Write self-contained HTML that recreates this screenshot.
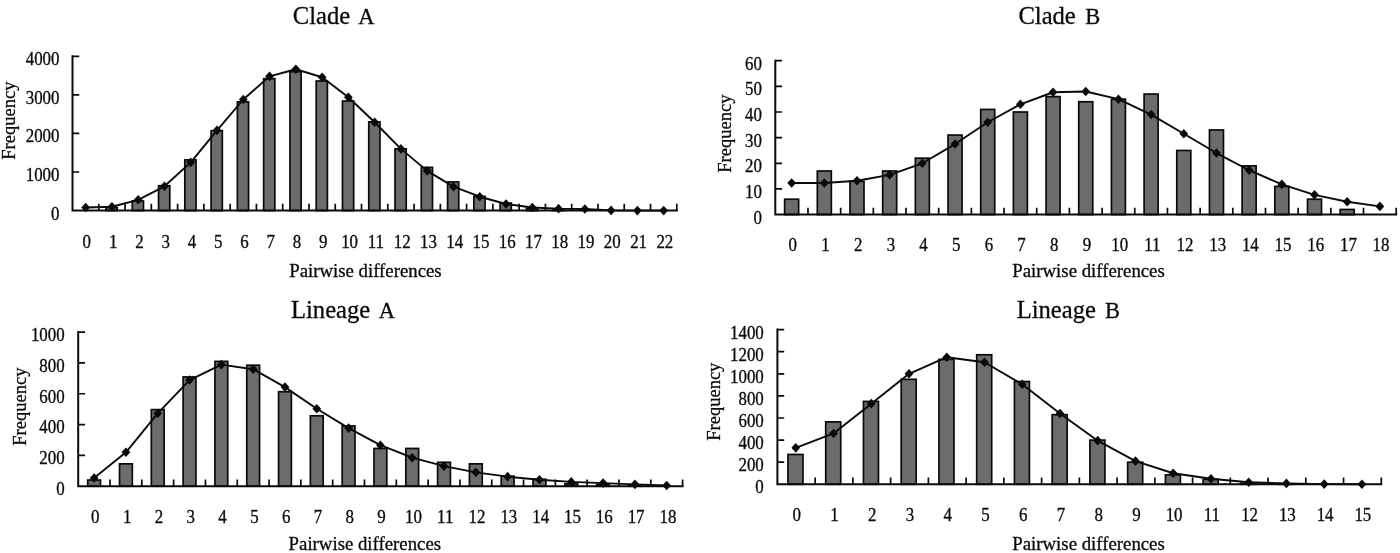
<!DOCTYPE html>
<html lang="en"><head><meta charset="utf-8"><title>Mismatch distributions</title>
<style>
html,body{margin:0;padding:0;background:#fff;}
body{width:1400px;height:553px;overflow:hidden;}
svg{display:block;}
svg text{font-family:"Liberation Serif", "Times New Roman", serif;fill:#0a0a0a;stroke:#0a0a0a;stroke-width:0.3px;}
</style></head>
<body>
<svg width="1400" height="553" viewBox="0 0 1400 553">
<rect width="1400" height="553" fill="#ffffff"/>
<g>
<rect x="106.01" y="207.51" width="11.2" height="3.09" fill="#6c6c6c" stroke="#0a0a0a" stroke-width="1.7"/>
<rect x="132.28" y="200.96" width="11.2" height="9.64" fill="#6c6c6c" stroke="#0a0a0a" stroke-width="1.7"/>
<rect x="158.56" y="185.72" width="11.2" height="24.88" fill="#6c6c6c" stroke="#0a0a0a" stroke-width="1.7"/>
<rect x="184.83" y="159.87" width="11.2" height="50.73" fill="#6c6c6c" stroke="#0a0a0a" stroke-width="1.7"/>
<rect x="211.11" y="130.75" width="11.2" height="79.85" fill="#6c6c6c" stroke="#0a0a0a" stroke-width="1.7"/>
<rect x="237.38" y="101.82" width="11.2" height="108.78" fill="#6c6c6c" stroke="#0a0a0a" stroke-width="1.7"/>
<rect x="263.65" y="78.67" width="11.2" height="131.93" fill="#6c6c6c" stroke="#0a0a0a" stroke-width="1.7"/>
<rect x="289.93" y="71.73" width="11.2" height="138.87" fill="#6c6c6c" stroke="#0a0a0a" stroke-width="1.7"/>
<rect x="316.2" y="80.99" width="11.2" height="129.61" fill="#6c6c6c" stroke="#0a0a0a" stroke-width="1.7"/>
<rect x="342.48" y="101.05" width="11.2" height="109.55" fill="#6c6c6c" stroke="#0a0a0a" stroke-width="1.7"/>
<rect x="368.75" y="121.88" width="11.2" height="88.72" fill="#6c6c6c" stroke="#0a0a0a" stroke-width="1.7"/>
<rect x="395.02" y="148.88" width="11.2" height="61.72" fill="#6c6c6c" stroke="#0a0a0a" stroke-width="1.7"/>
<rect x="421.3" y="167.4" width="11.2" height="43.2" fill="#6c6c6c" stroke="#0a0a0a" stroke-width="1.7"/>
<rect x="447.57" y="181.94" width="11.2" height="28.66" fill="#6c6c6c" stroke="#0a0a0a" stroke-width="1.7"/>
<rect x="473.85" y="196.33" width="11.2" height="14.27" fill="#6c6c6c" stroke="#0a0a0a" stroke-width="1.7"/>
<rect x="500.12" y="203.08" width="11.2" height="7.52" fill="#6c6c6c" stroke="#0a0a0a" stroke-width="1.7"/>
<rect x="526.39" y="208.29" width="11.2" height="2.31" fill="#6c6c6c" stroke="#0a0a0a" stroke-width="1.7"/>
<rect x="552.67" y="209.83" width="11.2" height="0.77" fill="#6c6c6c" stroke="#0a0a0a" stroke-width="1.7"/>
<path d="M72.5 55.3V211.6M72.5 210.6H677.8" fill="none" stroke="#0a0a0a" stroke-width="2.0"/>
<path d="M72.5 172.02h6.8M72.5 133.45h6.8M72.5 94.87h6.8M72.5 56.3h6.8M98.77 210.6v-6.8M125.05 210.6v-6.8M151.32 210.6v-6.8M177.6 210.6v-6.8M203.87 210.6v-6.8M230.14 210.6v-6.8M256.42 210.6v-6.8M282.69 210.6v-6.8M308.97 210.6v-6.8M335.24 210.6v-6.8M361.51 210.6v-6.8M387.79 210.6v-6.8M414.06 210.6v-6.8M440.33 210.6v-6.8M466.61 210.6v-6.8M492.88 210.6v-6.8M519.16 210.6v-6.8M545.43 210.6v-6.8M571.7 210.6v-6.8M597.98 210.6v-6.8M624.25 210.6v-6.8M650.53 210.6v-6.8M676.8 210.6v-6.8" fill="none" stroke="#0a0a0a" stroke-width="1.7"/>
<path d="M85.64 207.51L111.91 206.74L138.18 199.8L164.46 186.3L190.73 162.38L217.01 130.36L243.28 99.5L269.55 76.36L295.83 69.22L322.1 77.25L348.38 97.19L374.65 122.26L400.92 148.88L427.2 170.87L453.47 186.68L479.75 196.71L506.02 204.04L532.29 207.51L558.57 208.67L584.84 209.06L611.12 210.41L637.39 210.6L663.66 210.6" fill="none" stroke="#0a0a0a" stroke-width="1.9" stroke-linejoin="round"/>
<path d="M85.64 202.71l4.4 4.8l-4.4 4.8l-4.4 -4.8zM111.91 201.94l4.4 4.8l-4.4 4.8l-4.4 -4.8zM138.18 195l4.4 4.8l-4.4 4.8l-4.4 -4.8zM164.46 181.5l4.4 4.8l-4.4 4.8l-4.4 -4.8zM190.73 157.58l4.4 4.8l-4.4 4.8l-4.4 -4.8zM217.01 125.56l4.4 4.8l-4.4 4.8l-4.4 -4.8zM243.28 94.7l4.4 4.8l-4.4 4.8l-4.4 -4.8zM269.55 71.56l4.4 4.8l-4.4 4.8l-4.4 -4.8zM295.83 64.42l4.4 4.8l-4.4 4.8l-4.4 -4.8zM322.1 72.45l4.4 4.8l-4.4 4.8l-4.4 -4.8zM348.38 92.39l4.4 4.8l-4.4 4.8l-4.4 -4.8zM374.65 117.46l4.4 4.8l-4.4 4.8l-4.4 -4.8zM400.92 144.08l4.4 4.8l-4.4 4.8l-4.4 -4.8zM427.2 166.07l4.4 4.8l-4.4 4.8l-4.4 -4.8zM453.47 181.88l4.4 4.8l-4.4 4.8l-4.4 -4.8zM479.75 191.91l4.4 4.8l-4.4 4.8l-4.4 -4.8zM506.02 199.24l4.4 4.8l-4.4 4.8l-4.4 -4.8zM532.29 202.71l4.4 4.8l-4.4 4.8l-4.4 -4.8zM558.57 203.87l4.4 4.8l-4.4 4.8l-4.4 -4.8zM584.84 204.26l4.4 4.8l-4.4 4.8l-4.4 -4.8zM611.12 205.61l4.4 4.8l-4.4 4.8l-4.4 -4.8zM637.39 205.8l4.4 4.8l-4.4 4.8l-4.4 -4.8zM663.66 205.8l4.4 4.8l-4.4 4.8l-4.4 -4.8z" fill="#0a0a0a"/>
<text x="292.8" y="24.3" font-size="24.6">Clade</text>
<text x="358.2" y="24.3" font-size="22.5">A</text>
<text transform="translate(59.5 219.5) scale(0.95 1)" font-size="17.8" text-anchor="end">0</text>
<text transform="translate(59.5 180.92) scale(0.95 1)" font-size="17.8" text-anchor="end">1000</text>
<text transform="translate(59.5 142.35) scale(0.95 1)" font-size="17.8" text-anchor="end">2000</text>
<text transform="translate(59.5 103.77) scale(0.95 1)" font-size="17.8" text-anchor="end">3000</text>
<text transform="translate(59.5 65.2) scale(0.95 1)" font-size="17.8" text-anchor="end">4000</text>
<text transform="translate(86.84 247.8) scale(0.95 1)" font-size="17.8" text-anchor="middle">0</text>
<text transform="translate(113.11 247.8) scale(0.95 1)" font-size="17.8" text-anchor="middle">1</text>
<text transform="translate(139.38 247.8) scale(0.95 1)" font-size="17.8" text-anchor="middle">2</text>
<text transform="translate(165.66 247.8) scale(0.95 1)" font-size="17.8" text-anchor="middle">3</text>
<text transform="translate(191.93 247.8) scale(0.95 1)" font-size="17.8" text-anchor="middle">4</text>
<text transform="translate(218.21 247.8) scale(0.95 1)" font-size="17.8" text-anchor="middle">5</text>
<text transform="translate(244.48 247.8) scale(0.95 1)" font-size="17.8" text-anchor="middle">6</text>
<text transform="translate(270.75 247.8) scale(0.95 1)" font-size="17.8" text-anchor="middle">7</text>
<text transform="translate(297.03 247.8) scale(0.95 1)" font-size="17.8" text-anchor="middle">8</text>
<text transform="translate(323.3 247.8) scale(0.95 1)" font-size="17.8" text-anchor="middle">9</text>
<text transform="translate(349.58 247.8) scale(0.95 1)" font-size="17.8" text-anchor="middle">10</text>
<text transform="translate(375.85 247.8) scale(0.95 1)" font-size="17.8" text-anchor="middle">11</text>
<text transform="translate(402.12 247.8) scale(0.95 1)" font-size="17.8" text-anchor="middle">12</text>
<text transform="translate(428.4 247.8) scale(0.95 1)" font-size="17.8" text-anchor="middle">13</text>
<text transform="translate(454.67 247.8) scale(0.95 1)" font-size="17.8" text-anchor="middle">14</text>
<text transform="translate(480.95 247.8) scale(0.95 1)" font-size="17.8" text-anchor="middle">15</text>
<text transform="translate(507.22 247.8) scale(0.95 1)" font-size="17.8" text-anchor="middle">16</text>
<text transform="translate(533.49 247.8) scale(0.95 1)" font-size="17.8" text-anchor="middle">17</text>
<text transform="translate(559.77 247.8) scale(0.95 1)" font-size="17.8" text-anchor="middle">18</text>
<text transform="translate(586.04 247.8) scale(0.95 1)" font-size="17.8" text-anchor="middle">19</text>
<text transform="translate(612.32 247.8) scale(0.95 1)" font-size="17.8" text-anchor="middle">20</text>
<text transform="translate(638.59 247.8) scale(0.95 1)" font-size="17.8" text-anchor="middle">21</text>
<text transform="translate(664.86 247.8) scale(0.95 1)" font-size="17.8" text-anchor="middle">22</text>
<text x="289.2" y="277.2" font-size="18.8">Pairwise differences</text>
<text transform="translate(15 159.7) rotate(-90) scale(0.965 1)" font-size="19.2">Frequency</text>
</g>
<g>
<rect x="784.64" y="199.21" width="14" height="15.39" fill="#6c6c6c" stroke="#0a0a0a" stroke-width="1.7"/>
<rect x="817.32" y="171" width="14" height="43.6" fill="#6c6c6c" stroke="#0a0a0a" stroke-width="1.7"/>
<rect x="850" y="181.25" width="14" height="33.34" fill="#6c6c6c" stroke="#0a0a0a" stroke-width="1.7"/>
<rect x="882.68" y="171" width="14" height="43.6" fill="#6c6c6c" stroke="#0a0a0a" stroke-width="1.7"/>
<rect x="915.36" y="158.17" width="14" height="56.43" fill="#6c6c6c" stroke="#0a0a0a" stroke-width="1.7"/>
<rect x="948.03" y="135.09" width="14" height="79.51" fill="#6c6c6c" stroke="#0a0a0a" stroke-width="1.7"/>
<rect x="980.71" y="109.44" width="14" height="105.16" fill="#6c6c6c" stroke="#0a0a0a" stroke-width="1.7"/>
<rect x="1013.39" y="112" width="14" height="102.6" fill="#6c6c6c" stroke="#0a0a0a" stroke-width="1.7"/>
<rect x="1046.07" y="96.61" width="14" height="117.99" fill="#6c6c6c" stroke="#0a0a0a" stroke-width="1.7"/>
<rect x="1078.75" y="101.74" width="14" height="112.86" fill="#6c6c6c" stroke="#0a0a0a" stroke-width="1.7"/>
<rect x="1111.43" y="99.18" width="14" height="115.42" fill="#6c6c6c" stroke="#0a0a0a" stroke-width="1.7"/>
<rect x="1144.11" y="94.05" width="14" height="120.55" fill="#6c6c6c" stroke="#0a0a0a" stroke-width="1.7"/>
<rect x="1176.79" y="150.48" width="14" height="64.12" fill="#6c6c6c" stroke="#0a0a0a" stroke-width="1.7"/>
<rect x="1209.47" y="129.96" width="14" height="84.64" fill="#6c6c6c" stroke="#0a0a0a" stroke-width="1.7"/>
<rect x="1242.14" y="165.87" width="14" height="48.73" fill="#6c6c6c" stroke="#0a0a0a" stroke-width="1.7"/>
<rect x="1274.82" y="186.38" width="14" height="28.21" fill="#6c6c6c" stroke="#0a0a0a" stroke-width="1.7"/>
<rect x="1307.5" y="199.21" width="14" height="15.39" fill="#6c6c6c" stroke="#0a0a0a" stroke-width="1.7"/>
<rect x="1340.18" y="209.47" width="14" height="5.13" fill="#6c6c6c" stroke="#0a0a0a" stroke-width="1.7"/>
<path d="M775.3 59.7V215.6M775.3 214.6H1397.2" fill="none" stroke="#0a0a0a" stroke-width="2.0"/>
<path d="M775.3 188.95h6.8M775.3 163.3h6.8M775.3 137.65h6.8M775.3 112h6.8M775.3 86.35h6.8M775.3 60.7h6.8M807.98 214.6v-6.8M840.66 214.6v-6.8M873.34 214.6v-6.8M906.02 214.6v-6.8M938.69 214.6v-6.8M971.37 214.6v-6.8M1004.05 214.6v-6.8M1036.73 214.6v-6.8M1069.41 214.6v-6.8M1102.09 214.6v-6.8M1134.77 214.6v-6.8M1167.45 214.6v-6.8M1200.13 214.6v-6.8M1232.81 214.6v-6.8M1265.48 214.6v-6.8M1298.16 214.6v-6.8M1330.84 214.6v-6.8M1363.52 214.6v-6.8M1396.2 214.6v-6.8" fill="none" stroke="#0a0a0a" stroke-width="1.7"/>
<path d="M791.64 183.05L824.32 183.05L857 180.74L889.68 174.84L922.36 163.3L955.03 144.06L987.71 122.26L1020.39 104.31L1053.07 92.25L1085.75 91.48L1118.43 99.18L1151.11 114.57L1183.79 133.8L1216.47 153.04L1249.14 170.23L1281.82 184.33L1314.5 194.85L1347.18 201.78L1379.86 206.39" fill="none" stroke="#0a0a0a" stroke-width="1.9" stroke-linejoin="round"/>
<path d="M791.64 178.25l4.4 4.8l-4.4 4.8l-4.4 -4.8zM824.32 178.25l4.4 4.8l-4.4 4.8l-4.4 -4.8zM857 175.94l4.4 4.8l-4.4 4.8l-4.4 -4.8zM889.68 170.04l4.4 4.8l-4.4 4.8l-4.4 -4.8zM922.36 158.5l4.4 4.8l-4.4 4.8l-4.4 -4.8zM955.03 139.26l4.4 4.8l-4.4 4.8l-4.4 -4.8zM987.71 117.46l4.4 4.8l-4.4 4.8l-4.4 -4.8zM1020.39 99.51l4.4 4.8l-4.4 4.8l-4.4 -4.8zM1053.07 87.45l4.4 4.8l-4.4 4.8l-4.4 -4.8zM1085.75 86.68l4.4 4.8l-4.4 4.8l-4.4 -4.8zM1118.43 94.38l4.4 4.8l-4.4 4.8l-4.4 -4.8zM1151.11 109.77l4.4 4.8l-4.4 4.8l-4.4 -4.8zM1183.79 129l4.4 4.8l-4.4 4.8l-4.4 -4.8zM1216.47 148.24l4.4 4.8l-4.4 4.8l-4.4 -4.8zM1249.14 165.43l4.4 4.8l-4.4 4.8l-4.4 -4.8zM1281.82 179.53l4.4 4.8l-4.4 4.8l-4.4 -4.8zM1314.5 190.05l4.4 4.8l-4.4 4.8l-4.4 -4.8zM1347.18 196.97l4.4 4.8l-4.4 4.8l-4.4 -4.8zM1379.86 201.59l4.4 4.8l-4.4 4.8l-4.4 -4.8z" fill="#0a0a0a"/>
<text x="1018.4" y="24.3" font-size="24.6">Clade</text>
<text x="1085.3" y="24.3" font-size="22.5">B</text>
<text transform="translate(762 223.5) scale(0.95 1)" font-size="17.8" text-anchor="end">0</text>
<text transform="translate(762 197.85) scale(0.95 1)" font-size="17.8" text-anchor="end">10</text>
<text transform="translate(762 172.2) scale(0.95 1)" font-size="17.8" text-anchor="end">20</text>
<text transform="translate(762 146.55) scale(0.95 1)" font-size="17.8" text-anchor="end">30</text>
<text transform="translate(762 120.9) scale(0.95 1)" font-size="17.8" text-anchor="end">40</text>
<text transform="translate(762 95.25) scale(0.95 1)" font-size="17.8" text-anchor="end">50</text>
<text transform="translate(762 69.6) scale(0.95 1)" font-size="17.8" text-anchor="end">60</text>
<text transform="translate(792.84 251.1) scale(0.95 1)" font-size="17.8" text-anchor="middle">0</text>
<text transform="translate(825.52 251.1) scale(0.95 1)" font-size="17.8" text-anchor="middle">1</text>
<text transform="translate(858.2 251.1) scale(0.95 1)" font-size="17.8" text-anchor="middle">2</text>
<text transform="translate(890.88 251.1) scale(0.95 1)" font-size="17.8" text-anchor="middle">3</text>
<text transform="translate(923.56 251.1) scale(0.95 1)" font-size="17.8" text-anchor="middle">4</text>
<text transform="translate(956.23 251.1) scale(0.95 1)" font-size="17.8" text-anchor="middle">5</text>
<text transform="translate(988.91 251.1) scale(0.95 1)" font-size="17.8" text-anchor="middle">6</text>
<text transform="translate(1021.59 251.1) scale(0.95 1)" font-size="17.8" text-anchor="middle">7</text>
<text transform="translate(1054.27 251.1) scale(0.95 1)" font-size="17.8" text-anchor="middle">8</text>
<text transform="translate(1086.95 251.1) scale(0.95 1)" font-size="17.8" text-anchor="middle">9</text>
<text transform="translate(1119.63 251.1) scale(0.95 1)" font-size="17.8" text-anchor="middle">10</text>
<text transform="translate(1152.31 251.1) scale(0.95 1)" font-size="17.8" text-anchor="middle">11</text>
<text transform="translate(1184.99 251.1) scale(0.95 1)" font-size="17.8" text-anchor="middle">12</text>
<text transform="translate(1217.67 251.1) scale(0.95 1)" font-size="17.8" text-anchor="middle">13</text>
<text transform="translate(1250.34 251.1) scale(0.95 1)" font-size="17.8" text-anchor="middle">14</text>
<text transform="translate(1283.02 251.1) scale(0.95 1)" font-size="17.8" text-anchor="middle">15</text>
<text transform="translate(1315.7 251.1) scale(0.95 1)" font-size="17.8" text-anchor="middle">16</text>
<text transform="translate(1348.38 251.1) scale(0.95 1)" font-size="17.8" text-anchor="middle">17</text>
<text transform="translate(1381.06 251.1) scale(0.95 1)" font-size="17.8" text-anchor="middle">18</text>
<text x="1012.3" y="277.2" font-size="18.8">Pairwise differences</text>
<text transform="translate(731.3 172.7) rotate(-90) scale(0.965 1)" font-size="19.2">Frequency</text>
</g>
<g>
<rect x="87.71" y="480.04" width="12.8" height="6.16" fill="#6c6c6c" stroke="#0a0a0a" stroke-width="1.7"/>
<rect x="119.52" y="463.86" width="12.8" height="22.34" fill="#6c6c6c" stroke="#0a0a0a" stroke-width="1.7"/>
<rect x="151.33" y="409.61" width="12.8" height="76.59" fill="#6c6c6c" stroke="#0a0a0a" stroke-width="1.7"/>
<rect x="183.14" y="376.94" width="12.8" height="109.26" fill="#6c6c6c" stroke="#0a0a0a" stroke-width="1.7"/>
<rect x="214.95" y="361.38" width="12.8" height="124.82" fill="#6c6c6c" stroke="#0a0a0a" stroke-width="1.7"/>
<rect x="246.76" y="365.23" width="12.8" height="120.97" fill="#6c6c6c" stroke="#0a0a0a" stroke-width="1.7"/>
<rect x="278.57" y="391.74" width="12.8" height="94.46" fill="#6c6c6c" stroke="#0a0a0a" stroke-width="1.7"/>
<rect x="310.38" y="415.78" width="12.8" height="70.42" fill="#6c6c6c" stroke="#0a0a0a" stroke-width="1.7"/>
<rect x="342.19" y="425.95" width="12.8" height="60.25" fill="#6c6c6c" stroke="#0a0a0a" stroke-width="1.7"/>
<rect x="374" y="448.45" width="12.8" height="37.75" fill="#6c6c6c" stroke="#0a0a0a" stroke-width="1.7"/>
<rect x="405.81" y="448.45" width="12.8" height="37.75" fill="#6c6c6c" stroke="#0a0a0a" stroke-width="1.7"/>
<rect x="437.62" y="462.31" width="12.8" height="23.89" fill="#6c6c6c" stroke="#0a0a0a" stroke-width="1.7"/>
<rect x="469.43" y="463.86" width="12.8" height="22.34" fill="#6c6c6c" stroke="#0a0a0a" stroke-width="1.7"/>
<rect x="501.24" y="476.18" width="12.8" height="10.02" fill="#6c6c6c" stroke="#0a0a0a" stroke-width="1.7"/>
<rect x="533.05" y="479.27" width="12.8" height="6.93" fill="#6c6c6c" stroke="#0a0a0a" stroke-width="1.7"/>
<rect x="564.86" y="483.89" width="12.8" height="2.31" fill="#6c6c6c" stroke="#0a0a0a" stroke-width="1.7"/>
<rect x="596.67" y="484.66" width="12.8" height="1.54" fill="#6c6c6c" stroke="#0a0a0a" stroke-width="1.7"/>
<rect x="628.48" y="485.43" width="12.8" height="0.77" fill="#6c6c6c" stroke="#0a0a0a" stroke-width="1.7"/>
<path d="M78.2 331.1V487.2M78.2 486.2H683.6" fill="none" stroke="#0a0a0a" stroke-width="2.0"/>
<path d="M78.2 455.38h6.8M78.2 424.56h6.8M78.2 393.74h6.8M78.2 362.92h6.8M78.2 332.1h6.8M110.01 486.2v-6.8M141.82 486.2v-6.8M173.63 486.2v-6.8M205.44 486.2v-6.8M237.25 486.2v-6.8M269.06 486.2v-6.8M300.87 486.2v-6.8M332.68 486.2v-6.8M364.49 486.2v-6.8M396.31 486.2v-6.8M428.12 486.2v-6.8M459.93 486.2v-6.8M491.74 486.2v-6.8M523.55 486.2v-6.8M555.36 486.2v-6.8M587.17 486.2v-6.8M618.98 486.2v-6.8M650.79 486.2v-6.8M682.6 486.2v-6.8" fill="none" stroke="#0a0a0a" stroke-width="1.7"/>
<path d="M94.11 478.03L125.92 452.3L157.73 413.46L189.54 380.03L221.35 364.62L253.16 369.24L284.97 387.11L316.78 408.69L348.59 428.1L380.4 445.21L412.21 457.69L444.02 466.17L475.83 472.33L507.64 476.65L539.45 479.73L571.26 481.89L603.07 483.12L634.88 484.35L666.69 485.43" fill="none" stroke="#0a0a0a" stroke-width="1.9" stroke-linejoin="round"/>
<path d="M94.11 473.23l4.4 4.8l-4.4 4.8l-4.4 -4.8zM125.92 447.5l4.4 4.8l-4.4 4.8l-4.4 -4.8zM157.73 408.66l4.4 4.8l-4.4 4.8l-4.4 -4.8zM189.54 375.23l4.4 4.8l-4.4 4.8l-4.4 -4.8zM221.35 359.82l4.4 4.8l-4.4 4.8l-4.4 -4.8zM253.16 364.44l4.4 4.8l-4.4 4.8l-4.4 -4.8zM284.97 382.31l4.4 4.8l-4.4 4.8l-4.4 -4.8zM316.78 403.89l4.4 4.8l-4.4 4.8l-4.4 -4.8zM348.59 423.3l4.4 4.8l-4.4 4.8l-4.4 -4.8zM380.4 440.41l4.4 4.8l-4.4 4.8l-4.4 -4.8zM412.21 452.89l4.4 4.8l-4.4 4.8l-4.4 -4.8zM444.02 461.37l4.4 4.8l-4.4 4.8l-4.4 -4.8zM475.83 467.53l4.4 4.8l-4.4 4.8l-4.4 -4.8zM507.64 471.85l4.4 4.8l-4.4 4.8l-4.4 -4.8zM539.45 474.93l4.4 4.8l-4.4 4.8l-4.4 -4.8zM571.26 477.09l4.4 4.8l-4.4 4.8l-4.4 -4.8zM603.07 478.32l4.4 4.8l-4.4 4.8l-4.4 -4.8zM634.88 479.55l4.4 4.8l-4.4 4.8l-4.4 -4.8zM666.69 480.63l4.4 4.8l-4.4 4.8l-4.4 -4.8z" fill="#0a0a0a"/>
<text x="291" y="317.9" font-size="24.6">Lineage</text>
<text x="378.7" y="317.9" font-size="22.5">A</text>
<text transform="translate(64.7 495.1) scale(0.95 1)" font-size="17.8" text-anchor="end">0</text>
<text transform="translate(64.7 464.28) scale(0.95 1)" font-size="17.8" text-anchor="end">200</text>
<text transform="translate(64.7 433.46) scale(0.95 1)" font-size="17.8" text-anchor="end">400</text>
<text transform="translate(64.7 402.64) scale(0.95 1)" font-size="17.8" text-anchor="end">600</text>
<text transform="translate(64.7 371.82) scale(0.95 1)" font-size="17.8" text-anchor="end">800</text>
<text transform="translate(64.7 341) scale(0.95 1)" font-size="17.8" text-anchor="end">1000</text>
<text transform="translate(95.31 522.7) scale(0.95 1)" font-size="17.8" text-anchor="middle">0</text>
<text transform="translate(127.12 522.7) scale(0.95 1)" font-size="17.8" text-anchor="middle">1</text>
<text transform="translate(158.93 522.7) scale(0.95 1)" font-size="17.8" text-anchor="middle">2</text>
<text transform="translate(190.74 522.7) scale(0.95 1)" font-size="17.8" text-anchor="middle">3</text>
<text transform="translate(222.55 522.7) scale(0.95 1)" font-size="17.8" text-anchor="middle">4</text>
<text transform="translate(254.36 522.7) scale(0.95 1)" font-size="17.8" text-anchor="middle">5</text>
<text transform="translate(286.17 522.7) scale(0.95 1)" font-size="17.8" text-anchor="middle">6</text>
<text transform="translate(317.98 522.7) scale(0.95 1)" font-size="17.8" text-anchor="middle">7</text>
<text transform="translate(349.79 522.7) scale(0.95 1)" font-size="17.8" text-anchor="middle">8</text>
<text transform="translate(381.6 522.7) scale(0.95 1)" font-size="17.8" text-anchor="middle">9</text>
<text transform="translate(413.41 522.7) scale(0.95 1)" font-size="17.8" text-anchor="middle">10</text>
<text transform="translate(445.22 522.7) scale(0.95 1)" font-size="17.8" text-anchor="middle">11</text>
<text transform="translate(477.03 522.7) scale(0.95 1)" font-size="17.8" text-anchor="middle">12</text>
<text transform="translate(508.84 522.7) scale(0.95 1)" font-size="17.8" text-anchor="middle">13</text>
<text transform="translate(540.65 522.7) scale(0.95 1)" font-size="17.8" text-anchor="middle">14</text>
<text transform="translate(572.46 522.7) scale(0.95 1)" font-size="17.8" text-anchor="middle">15</text>
<text transform="translate(604.27 522.7) scale(0.95 1)" font-size="17.8" text-anchor="middle">16</text>
<text transform="translate(636.08 522.7) scale(0.95 1)" font-size="17.8" text-anchor="middle">17</text>
<text transform="translate(667.89 522.7) scale(0.95 1)" font-size="17.8" text-anchor="middle">18</text>
<text x="288.6" y="550.3" font-size="18.8">Pairwise differences</text>
<text transform="translate(26.3 445.7) rotate(-90) scale(0.965 1)" font-size="19.2">Frequency</text>
</g>
<g>
<rect x="787.97" y="454.47" width="15" height="29.83" fill="#6c6c6c" stroke="#0a0a0a" stroke-width="1.7"/>
<rect x="825.72" y="421.87" width="15" height="62.43" fill="#6c6c6c" stroke="#0a0a0a" stroke-width="1.7"/>
<rect x="863.46" y="401.43" width="15" height="82.87" fill="#6c6c6c" stroke="#0a0a0a" stroke-width="1.7"/>
<rect x="901.2" y="379.33" width="15" height="104.97" fill="#6c6c6c" stroke="#0a0a0a" stroke-width="1.7"/>
<rect x="938.95" y="359.44" width="15" height="124.86" fill="#6c6c6c" stroke="#0a0a0a" stroke-width="1.7"/>
<rect x="976.69" y="354.79" width="15" height="129.51" fill="#6c6c6c" stroke="#0a0a0a" stroke-width="1.7"/>
<rect x="1014.43" y="381.54" width="15" height="102.76" fill="#6c6c6c" stroke="#0a0a0a" stroke-width="1.7"/>
<rect x="1052.18" y="414.69" width="15" height="69.61" fill="#6c6c6c" stroke="#0a0a0a" stroke-width="1.7"/>
<rect x="1089.92" y="440.1" width="15" height="44.2" fill="#6c6c6c" stroke="#0a0a0a" stroke-width="1.7"/>
<rect x="1127.67" y="462.2" width="15" height="22.1" fill="#6c6c6c" stroke="#0a0a0a" stroke-width="1.7"/>
<rect x="1165.41" y="474.91" width="15" height="9.39" fill="#6c6c6c" stroke="#0a0a0a" stroke-width="1.7"/>
<rect x="1203.15" y="479.33" width="15" height="4.97" fill="#6c6c6c" stroke="#0a0a0a" stroke-width="1.7"/>
<rect x="1240.9" y="483.19" width="15" height="1.1" fill="#6c6c6c" stroke="#0a0a0a" stroke-width="1.7"/>
<rect x="1278.64" y="483.75" width="15" height="0.55" fill="#6c6c6c" stroke="#0a0a0a" stroke-width="1.7"/>
<path d="M777.4 328.6V485.3M777.4 484.3H1382.3" fill="none" stroke="#0a0a0a" stroke-width="2.0"/>
<path d="M777.4 462.2h6.8M777.4 440.1h6.8M777.4 418h6.8M777.4 395.9h6.8M777.4 373.8h6.8M777.4 351.7h6.8M777.4 329.6h6.8M815.14 484.3v-6.8M852.89 484.3v-6.8M890.63 484.3v-6.8M928.38 484.3v-6.8M966.12 484.3v-6.8M1003.86 484.3v-6.8M1041.61 484.3v-6.8M1079.35 484.3v-6.8M1117.09 484.3v-6.8M1154.84 484.3v-6.8M1192.58 484.3v-6.8M1230.32 484.3v-6.8M1268.07 484.3v-6.8M1305.81 484.3v-6.8M1343.56 484.3v-6.8M1381.3 484.3v-6.8" fill="none" stroke="#0a0a0a" stroke-width="1.7"/>
<path d="M795.77 447.84L833.52 433.47L871.26 403.63L909 373.8L946.75 357.23L984.49 362.2L1022.23 384.3L1059.98 413.58L1097.72 440.65L1135.47 461.1L1173.21 473.25L1210.95 478.78L1248.7 482.31L1286.44 483.42L1324.18 484.08L1361.93 484.3" fill="none" stroke="#0a0a0a" stroke-width="1.9" stroke-linejoin="round"/>
<path d="M795.77 443.04l4.4 4.8l-4.4 4.8l-4.4 -4.8zM833.52 428.67l4.4 4.8l-4.4 4.8l-4.4 -4.8zM871.26 398.83l4.4 4.8l-4.4 4.8l-4.4 -4.8zM909 369l4.4 4.8l-4.4 4.8l-4.4 -4.8zM946.75 352.43l4.4 4.8l-4.4 4.8l-4.4 -4.8zM984.49 357.4l4.4 4.8l-4.4 4.8l-4.4 -4.8zM1022.23 379.5l4.4 4.8l-4.4 4.8l-4.4 -4.8zM1059.98 408.78l4.4 4.8l-4.4 4.8l-4.4 -4.8zM1097.72 435.85l4.4 4.8l-4.4 4.8l-4.4 -4.8zM1135.47 456.3l4.4 4.8l-4.4 4.8l-4.4 -4.8zM1173.21 468.45l4.4 4.8l-4.4 4.8l-4.4 -4.8zM1210.95 473.98l4.4 4.8l-4.4 4.8l-4.4 -4.8zM1248.7 477.51l4.4 4.8l-4.4 4.8l-4.4 -4.8zM1286.44 478.62l4.4 4.8l-4.4 4.8l-4.4 -4.8zM1324.18 479.28l4.4 4.8l-4.4 4.8l-4.4 -4.8zM1361.93 479.5l4.4 4.8l-4.4 4.8l-4.4 -4.8z" fill="#0a0a0a"/>
<text x="1016.7" y="317.9" font-size="24.6">Lineage</text>
<text x="1104.9" y="317.9" font-size="22.5">B</text>
<text transform="translate(763.8 493.2) scale(0.95 1)" font-size="17.8" text-anchor="end">0</text>
<text transform="translate(763.8 471.1) scale(0.95 1)" font-size="17.8" text-anchor="end">200</text>
<text transform="translate(763.8 449) scale(0.95 1)" font-size="17.8" text-anchor="end">400</text>
<text transform="translate(763.8 426.9) scale(0.95 1)" font-size="17.8" text-anchor="end">600</text>
<text transform="translate(763.8 404.8) scale(0.95 1)" font-size="17.8" text-anchor="end">800</text>
<text transform="translate(763.8 382.7) scale(0.95 1)" font-size="17.8" text-anchor="end">1000</text>
<text transform="translate(763.8 360.6) scale(0.95 1)" font-size="17.8" text-anchor="end">1200</text>
<text transform="translate(763.8 338.5) scale(0.95 1)" font-size="17.8" text-anchor="end">1400</text>
<text transform="translate(796.67 520.5) scale(0.95 1)" font-size="17.8" text-anchor="middle">0</text>
<text transform="translate(834.42 520.5) scale(0.95 1)" font-size="17.8" text-anchor="middle">1</text>
<text transform="translate(872.16 520.5) scale(0.95 1)" font-size="17.8" text-anchor="middle">2</text>
<text transform="translate(909.9 520.5) scale(0.95 1)" font-size="17.8" text-anchor="middle">3</text>
<text transform="translate(947.65 520.5) scale(0.95 1)" font-size="17.8" text-anchor="middle">4</text>
<text transform="translate(985.39 520.5) scale(0.95 1)" font-size="17.8" text-anchor="middle">5</text>
<text transform="translate(1023.13 520.5) scale(0.95 1)" font-size="17.8" text-anchor="middle">6</text>
<text transform="translate(1060.88 520.5) scale(0.95 1)" font-size="17.8" text-anchor="middle">7</text>
<text transform="translate(1098.62 520.5) scale(0.95 1)" font-size="17.8" text-anchor="middle">8</text>
<text transform="translate(1136.37 520.5) scale(0.95 1)" font-size="17.8" text-anchor="middle">9</text>
<text transform="translate(1174.11 520.5) scale(0.95 1)" font-size="17.8" text-anchor="middle">10</text>
<text transform="translate(1211.85 520.5) scale(0.95 1)" font-size="17.8" text-anchor="middle">11</text>
<text transform="translate(1249.6 520.5) scale(0.95 1)" font-size="17.8" text-anchor="middle">12</text>
<text transform="translate(1287.34 520.5) scale(0.95 1)" font-size="17.8" text-anchor="middle">13</text>
<text transform="translate(1325.08 520.5) scale(0.95 1)" font-size="17.8" text-anchor="middle">14</text>
<text transform="translate(1362.83 520.5) scale(0.95 1)" font-size="17.8" text-anchor="middle">15</text>
<text x="1012.3" y="550.3" font-size="18.8">Pairwise differences</text>
<text transform="translate(719.6 440.8) rotate(-90) scale(0.965 1)" font-size="19.2">Frequency</text>
</g>
</svg>
</body></html>
